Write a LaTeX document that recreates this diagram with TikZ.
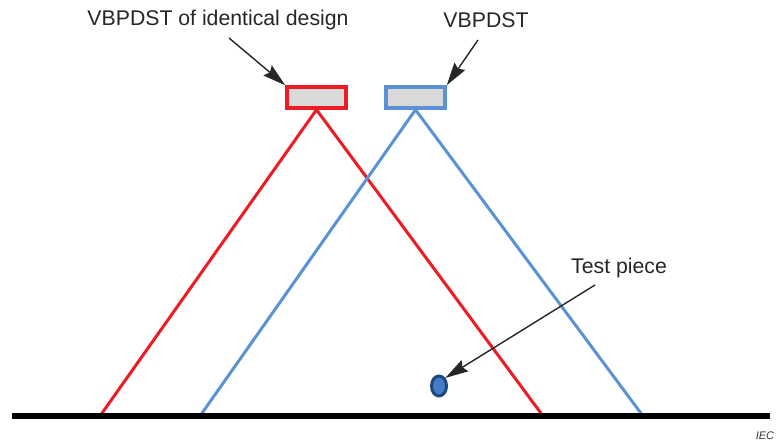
\documentclass[tikz,border=0pt]{standalone}
\usepackage{fontspec}
\setmainfont{Liberation Sans}
\usetikzlibrary{arrows.meta,shapes.geometric}
\definecolor{rd}{RGB}{237,28,36}
\definecolor{bl}{RGB}{91,146,211}
\definecolor{gr}{RGB}{217,217,217}
\definecolor{dbl}{RGB}{31,73,125}
\definecolor{mbl}{RGB}{68,126,200}
\tikzset{
  lbl/.style={font=\fontsize{21.25}{24}\selectfont, text=black!85, inner sep=0pt},
  sensor/.style={draw=#1, line width=3.5pt, fill=gr, minimum width=59pt, minimum height=21pt, inner sep=0pt},
  beam/.style={draw=#1, line width=3pt},
  pointer/.style={draw=black!85, line width=1.4pt, -{Stealth[length=23pt,width=13pt,inset=3pt]}},
}
\begin{document}
\begin{tikzpicture}[x=1pt,y=-1pt]
\useasboundingbox (0,0) rectangle (781,443);
% labels
\node[lbl] (l1) at (218,20) {VBPDST of identical design};
\node[lbl] (l2) at (486,20) {VBPDST};
\node[lbl] (l3) at (619,268) {Test piece};
\node[font=\itshape\fontsize{11}{12}\selectfont, text=black!80, inner sep=0pt] (iec) at (765,436) {IEC};
% sensors
\node[sensor=rd] (s1) at (316.5,97.5) {};
\node[sensor=bl] (s2) at (415.5,97.5) {};
% ground
\coordinate (g0) at (12,416);
\coordinate (g1) at (770,416);
\coordinate (r1) at (100,416);
\coordinate (r2) at (543,416);
\coordinate (b1) at (200,416);
\coordinate (b2) at (643,416);
% beams
\draw[beam=rd] (r1) -- (s1.south) -- (r2);
\draw[beam=bl] (b1) -- (s2.south) -- (b2);
\draw[line width=5.5pt, black] (g0) -- (g1);
% test piece
\node[draw=dbl, fill=mbl, line width=3pt, ellipse, minimum width=15pt, minimum height=20pt, inner sep=0pt] (tp) at (439,386) {};
% pointers
\coordinate (p1) at (229,38);
\coordinate (p2) at (478,40);
\coordinate (p3) at (595,285);
\draw[pointer] (p1) -- (s1.north west);
\draw[pointer] (p2) -- (s2.north east);
\draw[pointer] (p3) -- (tp.north east);
\end{tikzpicture}
\end{document}
